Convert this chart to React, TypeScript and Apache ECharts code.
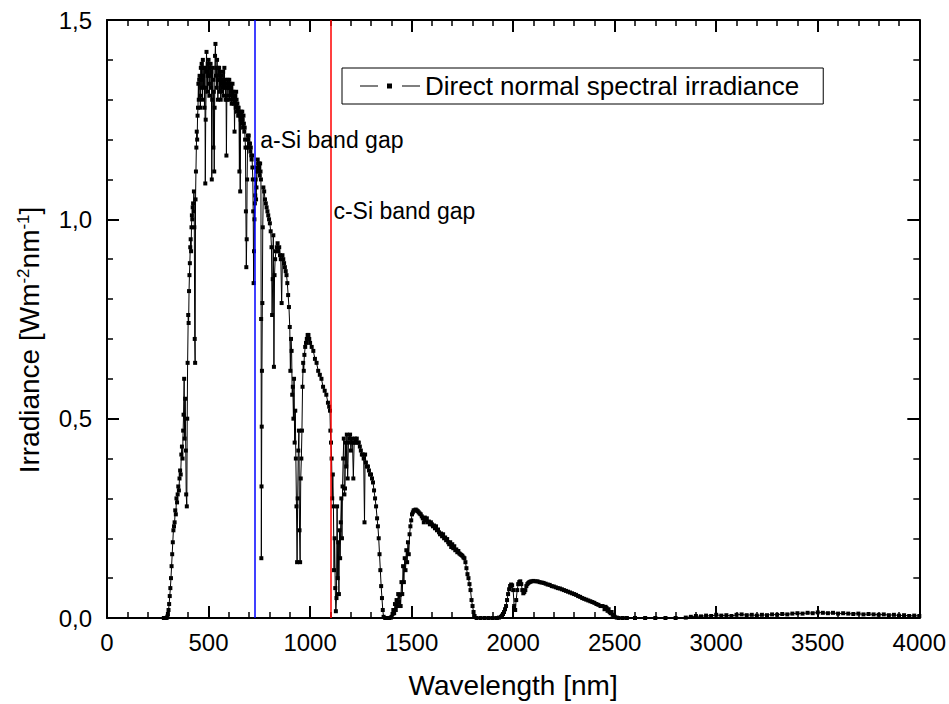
import React, { useEffect, useRef } from "react";
import * as echarts from "echarts";

const SERIES_NAME = "Direct normal spectral irradiance";
const X_TITLE = "Wavelength [nm]";
const BAND_GAP_LABELS = ["a-Si band gap", "c-Si band gap"];
const BAND_GAP_WAVELENGTHS = [730, 1100];
const BAND_GAP_LABEL_Y = [1.2, 1.022];

// UV edge (nm, W m^-2 nm^-1)
const uvWl = [280, 285, 290, 295, 298, 300, 303, 306, 309, 312, 315, 318, 321, 324, 327, 330, 333, 336, 339, 342, 345, 348, 351, 354, 357, 360, 363, 366, 369, 372, 375, 377, 380, 382, 385, 388, 390, 393, 395, 397];
const uvIr = [0, 0, 0, 0.001, 0.004, 0.01, 0.02, 0.035, 0.055, 0.075, 0.1, 0.13, 0.16, 0.19, 0.22, 0.23, 0.24, 0.27, 0.26, 0.3, 0.29, 0.31, 0.33, 0.32, 0.35, 0.37, 0.36, 0.41, 0.43, 0.4, 0.47, 0.51, 0.6, 0.45, 0.55, 0.42, 0.31, 0.28, 0.5, 0.64];

// Visible
const visWl = [
  400, 402, 404, 406, 408, 410, 412, 414, 416, 418, 420, 422, 424, 426, 428, 430, 432, 434, 436, 438, 440, 442, 444, 446, 448,
  450, 452, 454, 456, 458, 460, 462, 464, 466, 468, 470, 472, 474, 476, 478, 480, 482, 484, 486, 488, 490, 492, 494, 496, 498,
  500, 502, 504, 506, 508, 510, 512, 514, 516, 518, 520, 522, 524, 526, 528, 530, 532, 534, 536, 538, 540, 542, 544, 546, 548,
  550, 552, 554, 556, 558, 560, 562, 564, 566, 568, 570, 572, 574, 576, 578, 580, 582, 584, 586, 588, 590, 592, 594, 596, 598,
  600, 602, 604, 606, 608, 610, 612, 614, 616, 618, 620, 622, 624, 626, 628, 630, 632, 634, 636, 638, 640, 642, 644, 646, 648,
  650, 652, 654, 656, 658, 660, 662, 664, 666, 668, 670, 672, 674, 676, 678, 680, 682, 684, 686, 688, 690, 692, 694, 696, 698,
  700, 702, 704, 706, 708, 710, 712, 714, 716, 718, 720, 722, 724, 726, 728, 730, 732, 734, 736, 738, 740, 742, 744, 746, 748,
  750, 752, 754, 756, 758,
];
const visIr = [
  0.76, 0.74, 0.82, 0.86, 0.89, 0.93, 0.95, 0.92, 0.98, 1.01, 1.0, 1.03, 1.04, 1.02, 1.07, 0.98, 0.7, 0.64, 1.05, 1.12, 1.18, 1.22, 1.2, 1.26, 1.28,
  1.34, 1.3, 1.35, 1.36, 1.31, 1.28, 1.38, 1.33, 1.39, 1.35, 1.3, 1.4, 1.36, 1.33, 1.38, 1.28, 1.38, 1.09, 1.25, 1.33, 1.42, 1.37, 1.32, 1.39, 1.36,
  1.4, 1.34, 1.31, 1.38, 1.36, 1.39, 1.33, 1.37, 1.1, 1.3, 1.38, 1.35, 1.18, 1.32, 1.12, 1.28, 1.41, 1.44, 1.36, 1.38, 1.33, 1.4, 1.35, 1.3, 1.38,
  1.36, 1.38, 1.32, 1.35, 1.37, 1.3, 1.34, 1.36, 1.32, 1.35, 1.33, 1.37, 1.31, 1.34, 1.38, 1.33, 1.35, 1.3, 1.34, 1.16, 1.3, 1.33, 1.35, 1.31, 1.34,
  1.33, 1.35, 1.3, 1.33, 1.34, 1.31, 1.33, 1.29, 1.32, 1.34, 1.3, 1.32, 1.29, 1.31, 1.22, 1.3, 1.31, 1.28, 1.32, 1.3, 1.27, 1.29, 1.28, 1.26, 1.28,
  1.27, 1.12, 1.26, 1.07, 1.25, 1.27, 1.26, 1.24, 1.27, 1.25, 1.23, 1.26, 1.24, 1.22, 1.23, 1.2, 1.18, 1.02, 0.88, 0.95, 1.1, 1.18, 1.21, 1.2, 1.21,
  1.19, 1.18, 1.19, 1.17, 1.18, 1.16, 1.15, 1.16, 1.13, 1.1, 1.02, 0.84, 0.92, 1.0, 1.04, 1.06, 1.1, 1.05, 1.08, 1.13, 1.12, 1.15, 1.14, 1.12, 1.14,
  1.13, 1.11, 1.14, 1.12, 1.1,
];

// Near infrared
const nirWl = [759, 760, 761, 762, 763, 765, 767, 770, 774, 778, 782, 786, 790, 794, 798, 802, 806, 810, 813, 816, 819, 822, 825, 828, 832, 836, 840, 844, 848, 852, 856, 860, 864, 868, 872, 876, 880, 884, 888, 892, 896, 900, 903, 906, 909, 912, 915, 918, 921, 924, 927, 930, 933, 936, 939, 942, 945, 948, 951, 954, 957, 960, 963, 966, 969, 972, 976, 980, 984, 988, 992, 996, 1000, 1008, 1016, 1024, 1032, 1040, 1048, 1056, 1064, 1072, 1080, 1088, 1094, 1098];
const nirIr = [0.75, 0.15, 0.33, 0.48, 0.62, 0.79, 0.98, 1.08, 1.07, 1.05, 1.04, 1.03, 1.02, 1.01, 1.0, 0.99, 0.97, 0.93, 0.76, 0.85, 0.96, 0.63, 0.86, 0.9, 0.92, 0.93, 0.94, 0.92, 0.93, 0.91, 0.9, 0.79, 0.91, 0.9, 0.89, 0.88, 0.87, 0.86, 0.84, 0.81, 0.78, 0.73, 0.62, 0.7, 0.67, 0.56, 0.58, 0.5, 0.6, 0.44, 0.52, 0.4, 0.28, 0.14, 0.3, 0.42, 0.47, 0.22, 0.14, 0.35, 0.4, 0.47, 0.58, 0.64, 0.62, 0.66, 0.68, 0.69, 0.7, 0.71, 0.71, 0.7, 0.69, 0.68, 0.67, 0.65, 0.64, 0.62, 0.61, 0.6, 0.58, 0.57, 0.56, 0.54, 0.53, 0.52];

// SWIR band 1
const swir1Wl = [1100, 1103, 1106, 1109, 1112, 1115, 1118, 1121, 1124, 1127, 1130, 1133, 1136, 1139, 1142, 1145, 1148, 1151, 1154, 1157, 1160, 1163, 1166, 1169, 1172, 1175, 1178, 1181, 1185, 1189, 1193, 1197, 1201, 1205, 1209, 1213, 1217, 1221, 1225, 1230, 1235, 1240, 1245, 1250, 1255, 1260, 1264, 1268, 1271, 1275, 1280, 1285, 1290, 1295, 1300, 1305, 1310, 1315, 1320, 1325, 1330, 1334, 1338, 1342, 1346, 1350, 1354, 1358, 1362, 1370, 1380, 1390, 1398];
const swir1Ir = [0.47, 0.44, 0.4, 0.3, 0.36, 0.28, 0.12, 0.2, 0.075, 0.017, 0.05, 0.28, 0.1, 0.19, 0.06, 0.22, 0.15, 0.24, 0.3, 0.2, 0.33, 0.4, 0.45, 0.31, 0.325, 0.44, 0.38, 0.46, 0.35, 0.44, 0.45, 0.46, 0.42, 0.45, 0.44, 0.35, 0.44, 0.45, 0.44, 0.45, 0.44, 0.44, 0.43, 0.42, 0.41, 0.41, 0.4, 0.24, 0.41, 0.39, 0.38, 0.38, 0.37, 0.36, 0.36, 0.35, 0.34, 0.32, 0.3, 0.28, 0.25, 0.23, 0.2, 0.16, 0.12, 0.08, 0.05, 0.02, 0.003, 0, 0, 0, 0.001];

// SWIR band 2
const swir2Wl = [1402, 1406, 1410, 1414, 1418, 1422, 1426, 1430, 1434, 1438, 1442, 1446, 1450, 1454, 1458, 1462, 1466, 1470, 1474, 1478, 1482, 1486, 1490, 1494, 1498, 1502, 1506, 1510, 1515, 1520, 1525, 1530, 1535, 1540, 1545, 1550, 1555, 1560, 1565, 1570, 1575, 1580, 1585, 1590, 1595, 1600, 1605, 1610, 1615, 1620, 1625, 1630, 1635, 1640, 1645, 1650, 1655, 1660, 1665, 1670, 1675, 1680, 1685, 1690, 1695, 1700, 1705, 1710, 1715, 1720, 1725, 1730, 1735, 1740, 1745, 1750, 1755, 1760, 1765, 1770, 1775, 1780, 1785, 1790, 1795, 1800, 1805, 1810, 1820, 1840];
const swir2Ir = [0.003, 0.01, 0.02, 0.012, 0.035, 0.02, 0.045, 0.03, 0.06, 0.04, 0.058, 0.03, 0.09, 0.06, 0.13, 0.09, 0.15, 0.12, 0.17, 0.14, 0.19, 0.16, 0.21, 0.23, 0.245, 0.26, 0.265, 0.27, 0.27, 0.272, 0.27, 0.268, 0.265, 0.262, 0.26, 0.255, 0.25, 0.24, 0.252, 0.245, 0.25, 0.24, 0.242, 0.235, 0.24, 0.235, 0.23, 0.232, 0.225, 0.23, 0.22, 0.222, 0.215, 0.21, 0.212, 0.205, 0.21, 0.2, 0.202, 0.195, 0.198, 0.19, 0.185, 0.19, 0.178, 0.185, 0.175, 0.18, 0.17, 0.172, 0.165, 0.168, 0.162, 0.16, 0.158, 0.156, 0.152, 0.15, 0.14, 0.125, 0.11, 0.1, 0.085, 0.07, 0.045, 0.03, 0.015, 0.005, 0, 0];

// SWIR band 3
const swir3Wl = [1860, 1880, 1900, 1920, 1930, 1940, 1945, 1950, 1955, 1960, 1965, 1970, 1975, 1980, 1985, 1990, 1995, 2000, 2005, 2010, 2015, 2020, 2025, 2030, 2035, 2040, 2045, 2050, 2055, 2060, 2065, 2070, 2075, 2080, 2085, 2090, 2100, 2110, 2120, 2130, 2140, 2150, 2160, 2170, 2180, 2190, 2200, 2210, 2220, 2230, 2240, 2250, 2260, 2270, 2280, 2290, 2300, 2310, 2320, 2330, 2340, 2350, 2360, 2370, 2380, 2390, 2400, 2410, 2420, 2430, 2440, 2450, 2455, 2460, 2465, 2470, 2475, 2480, 2485, 2490, 2495, 2500, 2510, 2520, 2540];
const swir3Ir = [0, 0, 0, 0, 0.001, 0.003, 0.006, 0.01, 0.015, 0.022, 0.03, 0.045, 0.06, 0.072, 0.08, 0.084, 0.082, 0.07, 0.03, 0.02, 0.045, 0.07, 0.085, 0.09, 0.092, 0.085, 0.07, 0.062, 0.065, 0.07, 0.08, 0.085, 0.088, 0.09, 0.091, 0.092, 0.093, 0.092, 0.092, 0.09, 0.089, 0.088, 0.086, 0.084, 0.083, 0.08, 0.079, 0.077, 0.075, 0.074, 0.072, 0.07, 0.068, 0.066, 0.064, 0.062, 0.06, 0.058, 0.055, 0.053, 0.05, 0.048, 0.046, 0.044, 0.042, 0.04, 0.038, 0.035, 0.033, 0.03, 0.03, 0.022, 0.028, 0.025, 0.018, 0.022, 0.015, 0.012, 0.015, 0.008, 0.006, 0.003, 0.001, 0, 0];

// Mid infrared tail
const mirWl = [2560, 2600, 2650, 2700, 2750, 2800, 2850, 2875, 2900, 2925, 2950, 2975, 3000, 3025, 3050, 3075, 3100, 3125, 3150, 3175, 3200, 3225, 3250, 3275, 3300, 3325, 3350, 3375, 3400, 3425, 3450, 3475, 3500, 3525, 3550, 3575, 3600, 3625, 3650, 3675, 3700, 3725, 3750, 3775, 3800, 3825, 3850, 3875, 3900, 3925, 3950, 3975, 4000];
const mirIr = [0, 0, 0, 0, 0, 0, 0.001, 0.003, 0.005, 0.004, 0.006, 0.005, 0.008, 0.006, 0.007, 0.005, 0.008, 0.009, 0.007, 0.008, 0.006, 0.008, 0.007, 0.009, 0.008, 0.01, 0.009, 0.011, 0.012, 0.011, 0.013, 0.012, 0.014, 0.013, 0.012, 0.013, 0.011, 0.012, 0.011, 0.01, 0.011, 0.009, 0.01, 0.009, 0.008, 0.009, 0.007, 0.008, 0.006, 0.007, 0.005, 0.006, 0.005];

const FONT = "'Liberation Sans', Arial, Helvetica, sans-serif";

function zip(wl: number[], ir: number[]): number[][] {
  const n = Math.min(wl.length, ir.length);
  const out: number[][] = [];
  for (let i = 0; i < n; i++) out.push([wl[i], ir[i]]);
  return out;
}

const seriesData = [
  ...zip(uvWl, uvIr),
  ...zip(visWl, visIr),
  ...zip(nirWl, nirIr),
  ...zip(swir1Wl, swir1Ir),
  ...zip(swir2Wl, swir2Ir),
  ...zip(swir3Wl, swir3Ir),
  ...zip(mirWl, mirIr),
];

function axisCommon() {
  return {
    axisLine: { show: true, onZero: false, lineStyle: { color: "#000", width: 2 } },
    axisTick: { show: true, inside: true, length: 12, lineStyle: { color: "#000", width: 2 } },
    minorTick: { show: true, splitNumber: 5, length: 6, lineStyle: { color: "#000", width: 1.5 } },
    splitLine: { show: false },
    minorSplitLine: { show: false },
  };
}

export default function App() {
  const ref = useRef<HTMLDivElement>(null);
  useEffect(() => {
    document.body.style.margin = "0";
    const chart = echarts.init(ref.current!, null, { renderer: "svg" });
    const option = {
      animation: false,
      backgroundColor: "#ffffff",
      textStyle: { fontFamily: FONT },
      grid: { left: 107, right: 29, top: 20, bottom: 84, containLabel: false },
      legend: {
        show: true,
        left: 342,
        top: 68,
        orient: "horizontal",
        data: [{ name: SERIES_NAME, icon: "path://M0,4.5h18v1h-18z M27,2.5h5v5h-5z M42,4.5h18v1h-18z" }],
        itemWidth: 60,
        itemHeight: 10,
        padding: [5, 24, 5, 18],
        borderColor: "#000",
        borderWidth: 1,
        borderRadius: 0,
        backgroundColor: "#fff",
        selectedMode: false,
        textStyle: { fontSize: 26, color: "#000", fontFamily: FONT },
      },
      xAxis: [
        {
          type: "value",
          min: 0,
          max: 4000,
          interval: 500,
          position: "bottom",
          name: X_TITLE,
          nameLocation: "middle",
          nameGap: 53,
          nameTextStyle: { fontSize: 28, color: "#000", fontFamily: FONT },
          axisLabel: { show: true, fontSize: 24, color: "#000", margin: 12, fontFamily: FONT, formatter: (v: number) => String(v) },
          ...axisCommon(),
        },
        {
          type: "value",
          min: 0,
          max: 4000,
          interval: 500,
          position: "top",
          axisLabel: { show: false },
          ...axisCommon(),
        },
      ],
      yAxis: [
        {
          type: "value",
          min: 0,
          max: 1.5,
          interval: 0.5,
          position: "left",
          name: "{n|Irradiance [Wm}{s|-2}{n|nm}{s|-1}{n|]}",
          nameLocation: "middle",
          nameGap: 64,
          nameTextStyle: {
            fontSize: 28,
            color: "#000",
            fontFamily: FONT,
            padding: [0, 42, 0, 0],
            rich: {
              n: { fontSize: 28, color: "#000", fontFamily: FONT },
              s: { fontSize: 17, color: "#000", fontFamily: FONT, verticalAlign: "top" },
            },
          },
          axisLabel: {
            show: true,
            fontSize: 24,
            color: "#000",
            margin: 15,
            fontFamily: FONT,
            formatter: (v: number) => v.toFixed(1).replace(".", ","),
          },
          ...axisCommon(),
        },
        {
          type: "value",
          min: 0,
          max: 1.5,
          interval: 0.5,
          position: "right",
          axisLabel: { show: false },
          ...axisCommon(),
        },
      ],
      series: [
        {
          name: SERIES_NAME,
          type: "line",
          xAxisIndex: 0,
          yAxisIndex: 0,
          data: seriesData,
          symbol: "rect",
          symbolSize: 4,
          showSymbol: true,
          showAllSymbol: true,
          smooth: false,
          lineStyle: { color: "#000", width: 1 },
          itemStyle: { color: "#000" },
          silent: true,
          markLine: {
            silent: true,
            symbol: ["none", "none"],
            label: { show: false },
            lineStyle: { type: "solid", width: 1.5 },
            data: [
              { xAxis: BAND_GAP_WAVELENGTHS[0], lineStyle: { color: "#0000ff", type: "solid", width: 1.5 } },
              { xAxis: BAND_GAP_WAVELENGTHS[1], lineStyle: { color: "#ff0000", type: "solid", width: 1.5 } },
            ],
          },
          markPoint: {
            symbol: "rect",
            symbolSize: 0,
            silent: true,
            label: {
              show: true,
              position: "right",
              color: "#000",
              fontSize: 23,
              fontFamily: FONT,
            },
            data: [
              { coord: [BAND_GAP_WAVELENGTHS[0], BAND_GAP_LABEL_Y[0]], label: { formatter: BAND_GAP_LABELS[0], distance: 5 } },
              { coord: [BAND_GAP_WAVELENGTHS[1], BAND_GAP_LABEL_Y[1]], label: { formatter: BAND_GAP_LABELS[1], distance: 3 } },
            ],
          },
        },
      ],
    };
    chart.setOption(option as any);
    return () => chart.dispose();
  }, []);
  return <div ref={ref} style={{ width: 949, height: 704, background: "#fff" }} />;
}
